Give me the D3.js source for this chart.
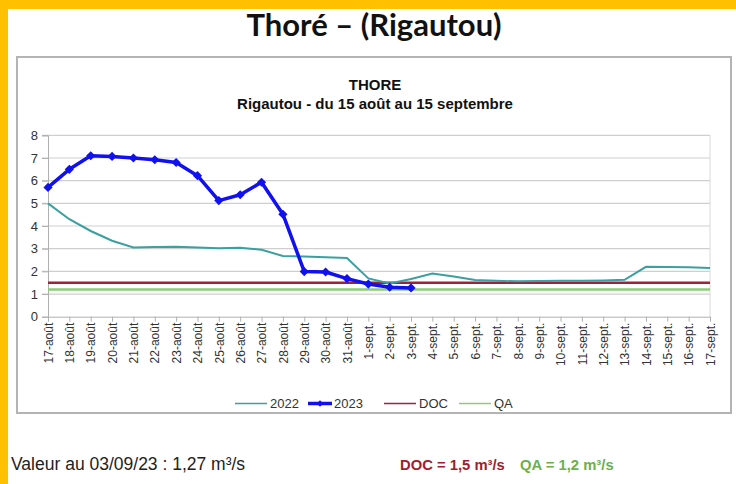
<!DOCTYPE html>
<html><head><meta charset="utf-8">
<script src="https://cdn.jsdelivr.net/npm/d3@7"></script>
<style>body{margin:0;background:#fff}svg{display:block}</style>
</head><body>
<svg id="c" width="736" height="484"></svg>
<script>
const categories = ["17-août","18-août","19-août","20-août","21-août","22-août","23-août","24-août","25-août","26-août","27-août","28-août","29-août","30-août","31-août","1-sept.","2-sept.","3-sept.","4-sept.","5-sept.","6-sept.","7-sept.","8-sept.","9-sept.","10-sept.","11-sept.","12-sept.","13-sept.","14-sept.","15-sept.","16-sept.","17-sept."];
const values2022 = [5.0,4.3,3.78,3.35,3.05,3.07,3.08,3.05,3.02,3.04,2.95,2.68,2.66,2.62,2.59,1.69,1.47,1.66,1.9,1.77,1.62,1.58,1.56,1.57,1.58,1.59,1.6,1.63,2.2,2.19,2.18,2.15];
const values2023 = [5.7,6.5,7.1,7.07,7.0,6.92,6.8,6.22,5.12,5.38,5.93,4.52,1.99,1.97,1.68,1.44,1.3,1.27];
const docValue = 1.5;
const qaValue = 1.2;
const yTicks = [0,1,2,3,4,5,6,7,8];
const legendItems = ["2022","2023","DOC","QA"];

const colors = {"2022":"#3aa0a0","2023":"#1010f0","DOC":"#9e2238","QA":"#8ccc78"};
const svg = d3.select("#c");
const font = "'Liberation Sans', Arial, sans-serif";

// yellow frame
svg.append("rect").attr("x",0).attr("y",0).attr("width",736).attr("height",9).attr("fill","#ffc000");
svg.append("rect").attr("x",0).attr("y",0).attr("width",8).attr("height",484).attr("fill","#ffc000");

// main title
svg.append("text").attr("x",374).attr("y",36).attr("text-anchor","middle")
  .attr("font-family","Lato, 'Open Sans', sans-serif").attr("font-weight",700).attr("font-size",31)
  .attr("fill","#111").text("Thoré – (Rigautou)");

// chart box
svg.append("rect").attr("x",17).attr("y",57).attr("width",714).attr("height",356)
  .attr("fill","#fff").attr("stroke","#b4b4b4").attr("stroke-width",2);

svg.append("text").attr("x",375).attr("y",90).attr("text-anchor","middle")
  .attr("font-family",font).attr("font-weight",700).attr("font-size",15).attr("fill","#111").text("THORE");
svg.append("text").attr("x",375).attr("y",109).attr("text-anchor","middle")
  .attr("font-family",font).attr("font-weight",700).attr("font-size",15).attr("fill","#111").text("Rigautou - du 15 août au 15 septembre");

const x = d3.scalePoint().domain(categories).range([48,710]);
const y = d3.scaleLinear().domain([0,8]).range([316.7,135.3]);

// grid
svg.append("g").selectAll("line").data(yTicks.slice(1)).join("line")
  .attr("x1",42).attr("x2",710).attr("y1",d=>y(d)).attr("y2",d=>y(d))
  .attr("stroke","#cfcfcf").attr("stroke-width",1.2);
svg.append("line").attr("x1",710).attr("x2",710).attr("y1",y(8)).attr("y2",y(0)).attr("stroke","#d8d8d8");

// y axis
const ya = svg.append("g").attr("transform","translate(48,0)")
  .call(d3.axisLeft(y).tickValues(yTicks).tickSize(6).tickFormat(d3.format("d")));
ya.select(".domain").attr("stroke","#b0b0b0");
ya.selectAll(".tick line").attr("stroke","#b0b0b0");
ya.selectAll("text").attr("font-family",font).attr("font-size",13).attr("fill","#333").attr("x",-10);

// x axis
const xa = svg.append("g").attr("transform",`translate(0,${y(0)})`)
  .call(d3.axisBottom(x).tickSize(5).tickSizeOuter(0));
xa.select(".domain").attr("stroke","#b0b0b0");
xa.selectAll(".tick line").attr("stroke","#b0b0b0");
xa.selectAll("text").attr("font-family",font).attr("font-size",12).attr("fill","#333")
  .attr("transform","rotate(-90)").attr("text-anchor","end").attr("x",-6).attr("y",0).attr("dy","0.35em");

// reference lines
const lineGen = d3.line().x((d,i)=>x(categories[i])).y(d=>y(d));
svg.append("line").attr("x1",x(categories[0])).attr("x2",x(categories[categories.length-1]))
  .attr("y1",y(qaValue)).attr("y2",y(qaValue)).attr("stroke",colors.QA).attr("stroke-width",2.5);
svg.append("line").attr("x1",x(categories[0])).attr("x2",x(categories[categories.length-1]))
  .attr("y1",y(docValue)).attr("y2",y(docValue)).attr("stroke",colors.DOC).attr("stroke-width",2.5);

// 2022
svg.append("path").datum(values2022).attr("d",lineGen).attr("fill","none")
  .attr("stroke",colors["2022"]).attr("stroke-width",2);

// 2023
svg.append("path").datum(values2023).attr("d",lineGen).attr("fill","none")
  .attr("stroke",colors["2023"]).attr("stroke-width",3.5).attr("stroke-linejoin","round");
const diamond = d3.symbol(d3.symbolSquare,42);
svg.append("g").selectAll("path").data(values2023).join("path")
  .attr("d",diamond).attr("fill",colors["2023"])
  .attr("transform",(d,i)=>`translate(${x(categories[i])},${y(d)}) rotate(45)`);

// legend
const legX = [235,308,384,459];
const lg = svg.append("g");
legendItems.forEach((k,i)=>{
  const x0 = legX[i], ly = 403.5;
  lg.append("line").attr("x1",x0).attr("x2",x0+(k==="2023"?24:32)).attr("y1",ly).attr("y2",ly)
    .attr("stroke",colors[k]).attr("stroke-width",k==="2023"?3.5:1.5);
  if(k==="2023") lg.append("path").attr("d",d3.symbol(d3.symbolSquare,22)).attr("fill",colors[k])
    .attr("transform",`translate(${x0+12},${ly}) rotate(45)`);
  lg.append("text").attr("x",x0+(k==="2023"?26:35)).attr("y",ly+4.5).attr("font-family",font)
    .attr("font-size",13).attr("fill","#333").text(k);
});

// bottom notes
svg.append("text").attr("x",11).attr("y",470).attr("font-family",font).attr("font-size",17.5)
  .attr("fill","#222").text("Valeur au 03/09/23 : 1,27 m³/s");
svg.append("text").attr("x",400).attr("y",470).attr("font-family",font).attr("font-size",14.8)
  .attr("font-weight",700).attr("fill","#a01c30").text("DOC = 1,5 m³/s");
svg.append("text").attr("x",520).attr("y",470).attr("font-family",font).attr("font-size",14.8)
  .attr("font-weight",700).attr("fill","#6cb04a").text("QA = 1,2 m³/s");
</script>
</body></html>
